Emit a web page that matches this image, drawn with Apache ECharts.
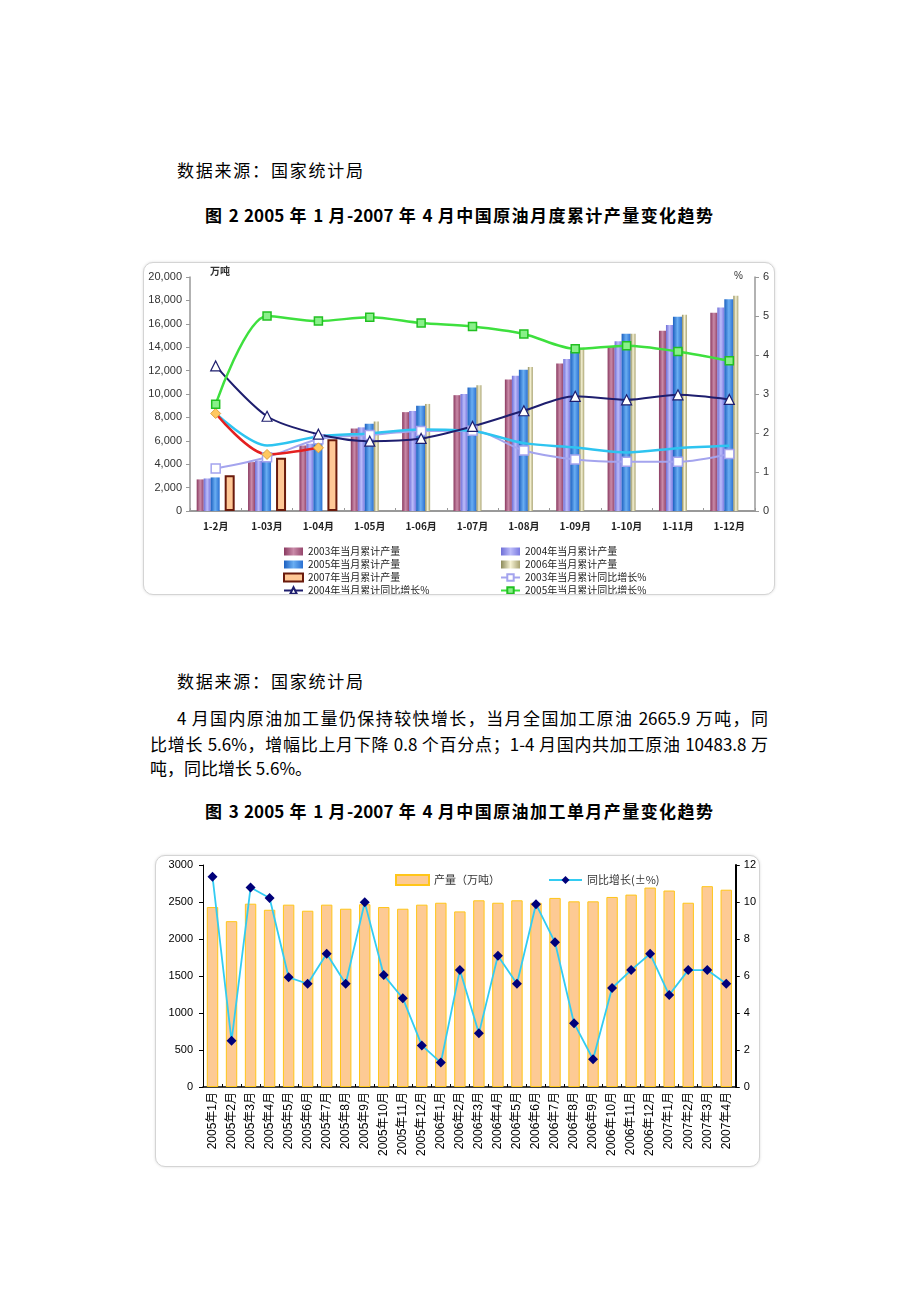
<!DOCTYPE html>
<html><head><meta charset="utf-8">
<script src="https://cdn.jsdelivr.net/npm/echarts@6/dist/echarts.min.js"></script>
<style>
html,body{margin:0;padding:0;background:#fff;}
body{width:920px;height:1302px;position:relative;overflow:hidden;font-family:"Noto Sans CJK SC","Noto Sans",sans-serif;color:#000;}
.t{position:absolute;font-size:17px;line-height:24px;}
.j{text-align:justify;text-align-last:justify;}
.h{font-weight:bold;}
.box{position:absolute;box-sizing:border-box;border:1px solid #d4d4d4;border-radius:10px;overflow:hidden;box-shadow:0 0 3px #ddd;background:#fff;}
</style>
</head>
<body>
<div class="t" style="left:177px;top:158px;width:186px;"><div class="j">数据来源：国家统计局</div></div>
<div class="t h j" style="left:205px;top:203px;width:508px;">图 2 2005 年 1 月-2007 年 4 月中国原油月度累计产量变化趋势</div>
<div class="box" style="left:143px;top:262px;width:632px;height:333px;"><div id="c1" style="position:absolute;left:0;top:0;width:630px;height:420px;"></div></div>
<div class="t" style="left:177px;top:669px;width:186px;"><div class="j">数据来源：国家统计局</div></div>
<div class="t j" style="left:177px;top:706px;width:591px;">4 月国内原油加工量仍保持较快增长，当月全国加工原油 2665.9 万吨，同</div>
<div class="t j" style="left:150px;top:732px;width:618px;">比增长 5.6%，增幅比上月下降 0.8 个百分点；1-4 月国内共加工原油 10483.8 万</div>
<div class="t" style="left:150px;top:756px;">吨，同比增长 5.6%。</div>
<div class="t h j" style="left:205px;top:799px;width:508px;">图 3 2005 年 1 月-2007 年 4 月中国原油加工单月产量变化趋势</div>
<div class="box" style="left:155px;top:855px;width:605px;height:312px;"><div id="c2" style="position:absolute;left:0;top:0;width:603px;height:310px;"></div></div>
<script>
// ---------- Fig 2 data ----------
const cumCategories = ['1-2月','1-03月','1-04月','1-05月','1-06月','1-07月','1-08月','1-09月','1-10月','1-11月','1-12月'];
const cum2003 = [2700, 4180, 5600, 7050, 8450, 9900, 11250, 12600, 14100, 15400, 16950];
const cum2004 = [2780, 4300, 5750, 7150, 8550, 10000, 11550, 13000, 14500, 15900, 17400];
const cum2005 = [2870, 4400, 5950, 7450, 9000, 10550, 12080, 13700, 15150, 16600, 18100];
const cum2006 = [null, null, null, 7650, 9150, 10750, 12300, 13950, 15150, 16780, 18400];
const cum2007 = [3050, 4550, 6130, null, null, null, null, null, null, null, null];
const grow2003 = [1.09, 1.38, 1.84, 1.95, 2.05, 2.06, 1.55, 1.32, 1.26, 1.26, 1.46];
const grow2004 = [3.72, 2.43, 1.97, 1.79, 1.86, 2.17, 2.57, 2.94, 2.85, 2.98, 2.86];
const grow2005 = [2.74, 5.00, 4.87, 4.97, 4.82, 4.73, 4.54, 4.16, 4.24, 4.09, 3.85];
const grow2006 = [2.50, 1.68, 1.91, 1.99, 2.09, 2.05, 1.74, 1.63, 1.50, 1.61, 1.67];
const grow2007 = [2.50, 1.45, 1.62, null, null, null, null, null, null, null, null];
const leftTicks = {min: 0, max: 20000, interval: 2000};
const rightTicks = {min: 0, max: 6, interval: 1};

// ---------- Fig 3 data ----------
const monthCategories = ['2005年1月','2005年2月','2005年3月','2005年4月','2005年5月','2005年6月','2005年7月','2005年8月','2005年9月','2005年10月','2005年11月','2005年12月','2006年1月','2006年2月','2006年3月','2006年4月','2006年5月','2006年6月','2006年7月','2006年8月','2006年9月','2006年10月','2006年11月','2006年12月','2007年1月','2007年2月','2007年3月','2007年4月'];
const monthOutput = [2432, 2241, 2477, 2395, 2464, 2382, 2464, 2409, 2470, 2432, 2409, 2464, 2490, 2373, 2523, 2490, 2523, 2490, 2555, 2509, 2509, 2568, 2600, 2695, 2655, 2490, 2714, 2666];
const monthGrowth = [11.37, 2.50, 10.78, 10.22, 5.93, 5.58, 7.20, 5.58, 9.98, 6.05, 4.80, 2.25, 1.32, 6.32, 2.90, 7.10, 5.58, 9.88, 7.82, 3.45, 1.50, 5.35, 6.32, 7.20, 4.97, 6.32, 6.32, 5.58];
const left2 = {min: 0, max: 3000, interval: 500};
const right2 = {min: 0, max: 12, interval: 2};

const FONT_NUM = 'Arial, "Liberation Sans", "Noto Sans CJK SC", sans-serif';
const FONT_CJK = '"Noto Sans CJK SC", Arial, sans-serif';

function grad(a, b, c) {
  return {type: 'linear', x: 0, y: 0, x2: 1, y2: 0, colorStops: [{offset: 0, color: a}, {offset: 0.5, color: b}, {offset: 1, color: c}]};
}
function comma(v) { return String(v).replace(/\B(?=(\d{3})+(?!\d))/g, ','); }

const n = ['2003年当月累计产量','2004年当月累计产量','2005年当月累计产量','2006年当月累计产量','2007年当月累计产量',
           '2003年当月累计同比增长%','2004年当月累计同比增长%','2005年当月累计同比增长%','2006年当月累计同比增长%','2007年当月累计同比增长%'];

const c1 = echarts.init(document.getElementById('c1'));
const legendText = {fontSize: 10, color: '#222', fontFamily: FONT_CJK, lineHeight: 11};
c1.setOption({
  animation: false,
  grid: {left: 46, top: 14, width: 565, height: 234},
  graphic: [
    {type: 'text', left: 66, top: 3, style: {text: '万吨', font: 'bold 10px ' + FONT_CJK, fill: '#333'}},
    {type: 'text', left: 590, top: 8, style: {text: '%', font: '10px ' + FONT_NUM, fill: '#333'}}
  ],
  legend: [
    {orient: 'vertical', left: 139, top: 283, height: 120, padding: 0, itemWidth: 19, itemHeight: 8, itemGap: 2, textStyle: legendText,
     data: [{name: n[0], icon: 'rect'}, {name: n[2], icon: 'rect'}, {name: n[4], icon: 'rect'}, n[6], n[8]]},
    {orient: 'vertical', left: 356, top: 283, height: 120, padding: 0, itemWidth: 19, itemHeight: 8, itemGap: 2, textStyle: legendText,
     data: [{name: n[1], icon: 'rect'}, {name: n[3], icon: 'rect'}, n[5], n[7], n[9]]}
  ],
  xAxis: {
    type: 'category', data: cumCategories,
    axisLine: {lineStyle: {color: '#999', width: 2}},
    axisTick: {show: true, inside: true, length: 3, lineStyle: {color: '#999'}},
    axisLabel: {color: '#222', fontSize: 10, fontWeight: 'bold', fontFamily: FONT_CJK, margin: 10}
  },
  yAxis: [
    {type: 'value', min: leftTicks.min, max: leftTicks.max, interval: leftTicks.interval,
     splitLine: {show: false},
     axisLine: {show: true, lineStyle: {color: '#999', width: 1.5}},
     axisTick: {show: true, length: 4, lineStyle: {color: '#999'}},
     axisLabel: {color: '#333', fontSize: 11, fontFamily: FONT_NUM, margin: 8, formatter: comma}},
    {type: 'value', min: rightTicks.min, max: rightTicks.max, interval: rightTicks.interval,
     splitLine: {show: false},
     axisLine: {show: true, lineStyle: {color: '#999', width: 1.5}},
     axisTick: {show: true, length: 4, lineStyle: {color: '#999'}},
     axisLabel: {color: '#333', fontSize: 11, fontFamily: FONT_NUM, margin: 8}}
  ],
  series: [
    {name: n[0], type: 'bar', data: cum2003, barWidth: 7, barGap: '0%', itemStyle: {color: grad('#8a3a60', '#c98aa8', '#95466c')}},
    {name: n[1], type: 'bar', data: cum2004, barWidth: 7, barGap: '0%', itemStyle: {color: grad('#6e6ed6', '#bcbcfa', '#7a7ae0')}},
    {name: n[2], type: 'bar', data: cum2005, barWidth: 9, barGap: '0%', itemStyle: {color: grad('#1c60c0', '#6aaef2', '#2a70d2')}},
    {name: n[3], type: 'bar', data: cum2006, barWidth: 5, barGap: '0%', itemStyle: {color: grad('#8c8a5a', '#f6f2d4', '#a8a270')}},
    {name: n[4], type: 'bar', data: cum2007, barWidth: 10, barGap: '0%', itemStyle: {color: '#ffc896', borderColor: '#6a1a0c', borderWidth: 2}},
    {name: n[5], type: 'line', yAxisIndex: 1, data: grow2003, smooth: 0.3, symbol: 'rect', symbolSize: 9,
     lineStyle: {color: '#a4a4ee', width: 2}, itemStyle: {color: '#fff', borderColor: '#a4a4ee', borderWidth: 1.5}},
    {name: n[8], type: 'line', yAxisIndex: 1, data: grow2006, smooth: 0.3, symbol: 'none',
     lineStyle: {color: '#2ec4f0', width: 2.5}, itemStyle: {color: '#2ec4f0'}},
    {name: n[9], type: 'line', yAxisIndex: 1, data: grow2007, smooth: 0.3, symbol: 'diamond', symbolSize: 10,
     lineStyle: {color: '#e42020', width: 2.5}, itemStyle: {color: '#ffc860', borderColor: '#e0a040', borderWidth: 1}},
    {name: n[6], type: 'line', yAxisIndex: 1, data: grow2004, smooth: 0.3, symbol: 'triangle', symbolSize: 10,
     lineStyle: {color: '#1e1e6e', width: 2}, itemStyle: {color: '#fff', borderColor: '#1e1e6e', borderWidth: 1.2}},
    {name: n[7], type: 'line', yAxisIndex: 1, data: grow2005, smooth: 0.3, symbol: 'rect', symbolSize: 8,
     lineStyle: {color: '#3ee03e', width: 2.5}, itemStyle: {color: '#8af08a', borderColor: '#22c022', borderWidth: 1.5}}
  ]
});

const c2 = echarts.init(document.getElementById('c2'));
c2.setOption({
  animation: false,
  grid: {left: 47, top: 9, width: 537, height: 222},
  legend: {left: 239, top: 18, padding: 0, itemWidth: 33, itemHeight: 10, itemGap: 48,
    textStyle: {fontSize: 11, color: '#333', fontFamily: FONT_CJK},
    data: [{name: '产量（万吨）', icon: 'rect'}, '同比增长(±%)']},
  xAxis: {
    type: 'category', data: monthCategories,
    axisLine: {lineStyle: {color: '#000', width: 1.5}},
    axisTick: {show: true, inside: true, length: 3, lineStyle: {color: '#000'}},
    axisLabel: {interval: 0, rotate: 90, color: '#000', fontSize: 12, fontFamily: FONT_NUM, margin: 5}
  },
  yAxis: [
    {type: 'value', min: left2.min, max: left2.max, interval: left2.interval, splitLine: {show: false},
     axisLine: {show: true, lineStyle: {color: '#000', width: 1}},
     axisTick: {show: true, length: 4, lineStyle: {color: '#000'}},
     axisLabel: {color: '#000', fontSize: 11, fontFamily: FONT_NUM, margin: 10, formatter: function (v) { return String(v); }}},
    {type: 'value', min: right2.min, max: right2.max, interval: right2.interval, splitLine: {show: false},
     axisLine: {show: true, lineStyle: {color: '#000', width: 2}},
     axisTick: {show: true, length: 4, lineStyle: {color: '#000'}},
     axisLabel: {color: '#000', fontSize: 11, fontFamily: FONT_NUM, margin: 8}}
  ],
  series: [
    {name: '产量（万吨）', type: 'bar', data: monthOutput, barWidth: '60%',
     itemStyle: {color: '#fdca94', borderColor: '#ffc619', borderWidth: 1}},
    {name: '同比增长(±%)', type: 'line', yAxisIndex: 1, data: monthGrowth, symbol: 'diamond', symbolSize: 10,
     lineStyle: {color: '#33ccf2', width: 1.8}, itemStyle: {color: '#00007a'}}
  ]
});
</script>
</body></html>
